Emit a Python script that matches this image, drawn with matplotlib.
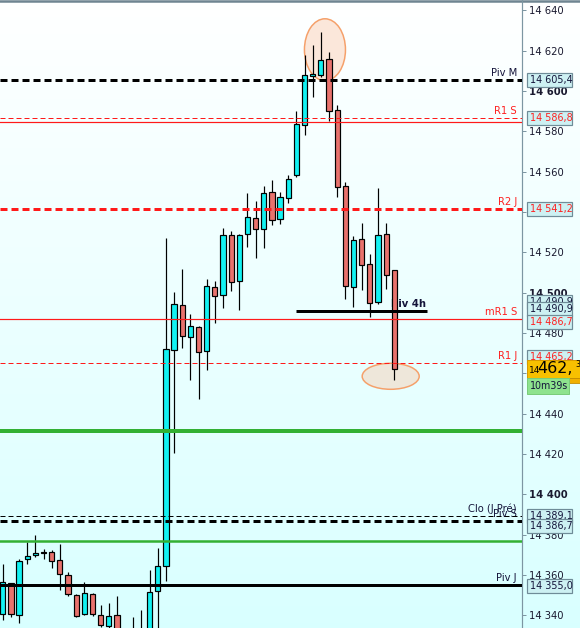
import numpy as np
import matplotlib
matplotlib.use("Agg")
import matplotlib.pyplot as plt
from matplotlib.patches import Rectangle, Ellipse
from matplotlib.transforms import blended_transform_factory

plt.rcParams['lines.scale_dashes'] = False
plt.rcParams['font.family'] = ['DejaVu Sans']

# ---------------- data ----------------
opens = [14340.7, 14355.9, 14340.0, 14367.8, 14369.8, 14371.3, 14371.2, 14367.3, 14359.8, 14349.9,
         14340.5, 14350.4, 14340.0, 14334.6, 14340.0, 14329.0, 14325.0, 14328.0, 14331.0, 14351.9,
         14364.3, 14471.4, 14493.7, 14477.8, 14482.8, 14470.9, 14502.8, 14499.0, 14528.4, 14505.6,
         14528.9, 14536.8, 14531.4, 14549.7, 14536.3, 14546.8, 14558.2, 14582.9, 14607.2, 14607.7,
         14615.7, 14590.4, 14552.7, 14502.6, 14526.4, 14514.0, 14495.2, 14528.9, 14511.1]
highs = [14365.4, 14356.2, 14367.8, 14376.5, 14379.8, 14372.7, 14372.2, 14375.4, 14361.3, 14350.4,
         14356.5, 14351.1, 14345.1, 14346.1, 14349.6, 14332.0, 14339.3, 14342.6, 14362.5, 14373.4,
         14527.1, 14500.1, 14511.7, 14489.4, 14483.3, 14506.7, 14505.8, 14532.0, 14530.5, 14529.0,
         14549.4, 14545.4, 14552.9, 14555.8, 14549.7, 14558.3, 14589.9, 14617.8, 14622.6, 14629.0,
         14619.1, 14592.9, 14554.7, 14527.9, 14534.4, 14519.0, 14551.7, 14534.4, 14511.3]
lows = [14337.7, 14339.0, 14336.0, 14365.3, 14369.1, 14368.1, 14363.6, 14352.6, 14349.7, 14339.2,
        14340.2, 14339.7, 14334.1, 14333.9, 14327.0, 14322.0, 14322.0, 14324.0, 14328.0, 14330.0,
        14357.2, 14420.6, 14472.7, 14456.8, 14447.4, 14461.8, 14485.1, 14492.5, 14500.9, 14491.5,
        14522.8, 14517.3, 14522.3, 14533.4, 14533.9, 14544.3, 14557.5, 14578.3, 14597.1, 14606.7,
        14584.9, 14547.2, 14496.7, 14492.7, 14501.1, 14487.8, 14494.2, 14501.6, 14456.5]
closes = [14356.4, 14340.5, 14366.8, 14369.3, 14370.9, 14371.1, 14366.8, 14360.3, 14350.4, 14339.5,
          14350.9, 14340.5, 14335.1, 14339.5, 14330.0, 14326.0, 14331.0, 14332.0, 14351.4, 14364.5,
          14471.9, 14494.2, 14478.3, 14483.3, 14470.4, 14503.1, 14498.5, 14528.4, 14505.1, 14528.4,
          14537.3, 14531.4, 14549.2, 14535.8, 14547.2, 14556.2, 14583.4, 14607.7, 14608.4, 14615.2,
          14589.9, 14552.2, 14503.1, 14525.9, 14513.5, 14494.7, 14528.4, 14508.6, 14462.3]

level_names = ["Piv M", "R1 S", "", "R2 J", "mR1 S", "R1 J", "", "Clo (J Pré)", "Piv S", "", "Piv J"]
level_values = [14605.4, 14586.8, 14584.6, 14541.2, 14486.7, 14465.2, 14431.4, 14389.1, 14386.7, 14377.0, 14355.0]

piv4h_name = "Piv 4h"
piv4h_value = 14490.9
piv4h_span = (36.0, 52.0)

box_values = [14605.4, 14586.8, 14541.2, 14490.9, 14490.9, 14486.7, 14465.2, 14389.1, 14386.7, 14355.0]
box_texts = ["14 605,4", "14 586,8", "14 541,2", "14 490,9", "14 490,9", "14 486,7", "14 465,2",
             "14 389,1", "14 386,7", "14 355,0"]

last_price_big = "462,"
last_price_small = "14"
last_price_tail = "3"
countdown = "10m39s"

tick_values = list(range(14340, 14641, 20))
hidden_ticks = [14540, 14460]  # covered by price boxes in the original
tick_labels = ["" if v in hidden_ticks else "14 %03d" % (v - 14000) for v in tick_values]

# ---------------- styles ----------------
level_colors = ['#000000', '#ff1a1a', '#ff1a1a', '#ff1a1a', '#ff1a1a', '#ff1a1a', '#33b033',
                '#000000', '#000000', '#33b033', '#000000']
level_widths = [3, 1, 1.2, 3, 1.2, 1, 4, 1, 3, 2.5, 3]
level_dashes = [(7, 4), (5, 3), None, (7, 4), None, (5, 3), None, (5, 3), (7, 4), None, None]
text_colors = ['#14143a', '#ff2020', None, '#ff2020', '#ff2020', '#ff2020', None, '#14143a', '#14143a', None, '#14143a']
box_text_colors = ['#14143a', '#ff2020', '#ff2020', '#14143a', '#14143a', '#ff2020', '#ff2020',
                   '#14143a', '#14143a', '#14143a']
box_offsets_px = [0, 0, 0, -9, -2, 2.6, -6, 0, 4.5, 0.5]

W, H = 580, 628
AXW = 522.0
fig = plt.figure(figsize=(W / 72, H / 72), dpi=72)

# background gradient
bg = fig.add_axes([0, 0, 1, 1], zorder=-1)
top = np.array([1.0, 1.0, 1.0])
bot = np.array([0.85, 1.0, 1.0])
t = np.linspace(0, 1, 256)[:, None]
grad = top[None, :] * (1 - t) + bot[None, :] * t
bg.imshow(grad[:, None, :], aspect='auto', extent=[0, 1, 0, 1])
bg.set_xlim(0, 1); bg.set_ylim(0, 1)
bg.axis('off')
bg.plot([0, 1], [0.999, 0.999], color='#6f8591', lw=2.5)

ax = fig.add_axes([0, 0, AXW / W, 1])
ax.set_facecolor('none')
ymin, ymax = 14333.7, 14645.06
ax.set_ylim(ymin, ymax)
ax.set_xlim(-0.343, 63.66)
ppu = H / (ymax - ymin)  # pixels per price unit

for s in ['top', 'left', 'bottom']:
    ax.spines[s].set_visible(False)
ax.spines['right'].set_color('#7d96a2')
ax.spines['right'].set_linewidth(1.2)
ax.set_xticks([])
ax.yaxis.tick_right()
ax.set_yticks(tick_values)
ax.set_yticklabels(tick_labels)
ax.tick_params(axis='y', length=4, width=1, pad=3, labelsize=10, colors='#7d96a2', labelcolor='#1a1a30')
for lab, v in zip(ax.get_yticklabels(), tick_values):
    if v % 100 == 0:
        lab.set_fontweight('bold')

# candles
bw = 0.64
for i, (o, h, l, c) in enumerate(zip(opens, highs, lows, closes)):
    ax.vlines(i, l, h, color='black', lw=1.2, zorder=3)
    up = c >= o
    fc = '#12f2f2' if up else '#e8726d'
    bot_ = min(o, c)
    ht = max(abs(c - o), 0.3)
    ax.add_patch(Rectangle((i - bw / 2, bot_), bw, ht, facecolor=fc, edgecolor='black', lw=1.2, zorder=4))

# ellipses
ax.add_patch(Ellipse((39.5, 14620.4), 5.03, 30.7, facecolor='#fbd5bd', alpha=0.55, edgecolor='none', zorder=2.8))
ax.add_patch(Ellipse((39.5, 14620.4), 5.03, 30.7, facecolor='none', edgecolor='#f5a06a', lw=1.5, zorder=2.9))
ax.add_patch(Ellipse((47.56, 14458.5), 6.99, 12.9, facecolor='#f4d5bd', alpha=0.55, edgecolor='none', zorder=2.8))
ax.add_patch(Ellipse((47.56, 14458.5), 6.99, 12.9, facecolor='none', edgecolor='#f5a06a', lw=1.5, zorder=2.9))

# horizontal levels
for name, v, col, lw, ds, tc in zip(level_names, level_values, level_colors, level_widths, level_dashes, text_colors):
    if ds is None:
        ax.axhline(v, color=col, lw=lw, zorder=5)
    else:
        ax.axhline(v, color=col, lw=lw, linestyle=(0, ds), zorder=5)
    if name:
        ax.annotate(name, xy=(1.0, v), xycoords=('axes fraction', 'data'),
                    xytext=(-5, 2), textcoords='offset points', ha='right', va='bottom',
                    fontsize=10, color=tc, zorder=2)

# Piv 4h line
ax.hlines(piv4h_value, piv4h_span[0], piv4h_span[1], color='black', lw=3, zorder=5)
ax.annotate(piv4h_name, xy=(47.6, piv4h_value), xycoords='data', xytext=(0, 2),
            textcoords='offset points', ha='left', va='bottom', fontsize=10,
            fontweight='bold', color='#14143a', zorder=2)

# price boxes on the axis
tr = blended_transform_factory(ax.transAxes, ax.transData)
bx0 = 527 / AXW
bxw = 45 / AXW
bh = 14 / ppu
for k, (v, txt, tc, off) in enumerate(zip(box_values, box_texts, box_text_colors, box_offsets_px)):
    yc = v - off / ppu
    ax.add_patch(Rectangle((bx0, yc - bh / 2), bxw, bh, transform=tr, clip_on=False,
                           facecolor='#cdf1f3', edgecolor='#6f8c98', lw=1.2, zorder=6 + 0.1 * k))
    ax.text(529.5 / AXW, yc, txt, transform=tr, clip_on=False, ha='left', va='center',
            fontsize=9.6, color=tc, zorder=6.05 + 0.1 * k)

# current price label
last = closes[-1]
gh = 18 / ppu
ax.add_patch(Rectangle((bx0, last - gh / 2), 60 / AXW, gh, transform=tr, clip_on=False,
                       facecolor='#f7c000', edgecolor='#d89a00', lw=1, zorder=8))
ax.add_patch(Rectangle((568 / AXW, last - gh / 2 - 5 / ppu), 14 / AXW, 5 / ppu, transform=tr,
                       clip_on=False, facecolor='#f0b000', edgecolor='#c08a00', lw=0.8, zorder=8))
ax.text(529 / AXW, last - 1.5 / ppu, last_price_small, transform=tr, clip_on=False,
        ha='left', va='center', fontsize=9, color='black', zorder=9)
ax.text(537 / AXW, last, last_price_big, transform=tr, clip_on=False,
        ha='left', va='center', fontsize=16, color='black', zorder=9)
ax.text(575 / AXW, last + 4 / ppu, last_price_tail, transform=tr, clip_on=False,
        ha='left', va='center', fontsize=8, color='black', zorder=9)
# countdown
ch = 16 / ppu
cy = last - (9 + 8.5) / ppu
ax.add_patch(Rectangle((bx0, cy - ch / 2), 42 / AXW, ch, transform=tr, clip_on=False,
                       facecolor='#8ee38e', edgecolor='#7acc7a', lw=1, zorder=9))
ax.text(529.5 / AXW, cy, countdown, transform=tr, clip_on=False, ha='left', va='center',
        fontsize=9.5, color='#14143a', zorder=10)

fig.savefig('out.png', dpi=72)
